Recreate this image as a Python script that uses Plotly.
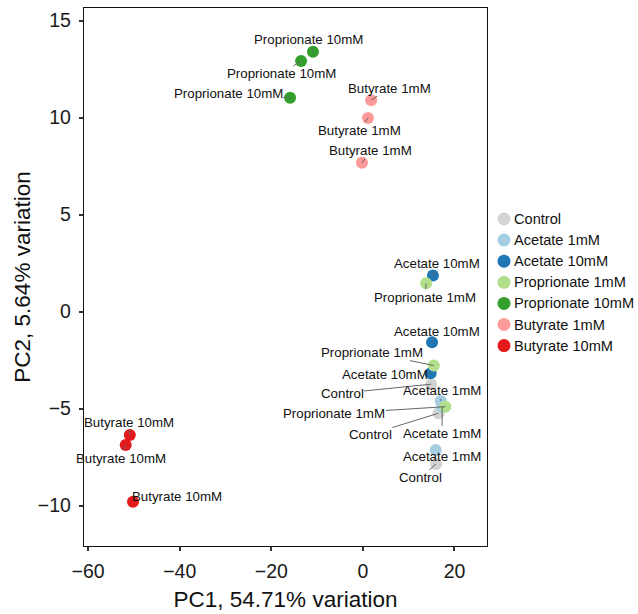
import plotly.graph_objects as go

groups = ["Control", "Acetate 1mM", "Acetate 10mM", "Proprionate 1mM",
          "Proprionate 10mM", "Butyrate 1mM", "Butyrate 10mM"]
colors = ["#D3D3D3", "#A6CEE3", "#1F78B4", "#B2DF8A", "#33A02C", "#FB9A99", "#E31A1C"]

pc1_control = [14.9, 16.5, 16.0]
pc2_control = [-3.74, -5.24, -7.85]
pc1_ace1 = [17.0, 17.3, 15.9]
pc2_ace1 = [-4.6, -4.9, -7.13]
pc1_ace10 = [15.3, 15.1, 14.8]
pc2_ace10 = [1.86, -1.58, -3.18]
pc1_pro1 = [13.8, 15.5, 18.0]
pc2_pro1 = [1.46, -2.78, -4.9]
pc1_pro10 = [-10.9, -13.5, -15.9]
pc2_pro10 = [13.39, 12.92, 11.02]
pc1_but1 = [1.8, 1.1, -0.2]
pc2_but1 = [10.9, 9.98, 7.67]
pc1_but10 = [-50.9, -51.8, -50.2]
pc2_but10 = [-6.36, -6.88, -9.8]

pc1 = [pc1_control, pc1_ace1, pc1_ace10, pc1_pro1, pc1_pro10, pc1_but1, pc1_but10]
pc2 = [pc2_control, pc2_ace1, pc2_ace10, pc2_pro1, pc2_pro10, pc2_but1, pc2_but10]

# label offsets (pixels) for repelled labels, layout only
label_offsets = [
    [(-89, 9), (-68, 21), (-16, 14)],
    [(1, -10), (0, 27), (6, 7)],
    [(4, -12), (5, -11), (-46, 1)],
    [(-1, 14), (-62, -13), (-111, 7)],
    [(-4, -12), (-20, 13), (-62, -4)],
    [(18, -12), (-8, 12), (9, -12)],
    [(-1, -13), (-5, 13), (44, -5)],
]

FONT = "Liberation Sans, Arial"

fig = go.Figure()
annotations = []
shapes = []
for g, c, xs, ys, offs in zip(groups, colors, pc1, pc2, label_offsets):
    fig.add_trace(go.Scatter(
        x=xs, y=ys, mode="markers", name=g, showlegend=False,
        marker=dict(color=c, size=12, line=dict(width=0)),
    ))
    for x, y, (dx, dy) in zip(xs, ys, offs):
        annotations.append(dict(
            x=x, y=y, xref="x", yref="y", text=g, showarrow=True,
            ax=dx, ay=dy, arrowhead=0, arrowwidth=1, arrowcolor="#666666",
            standoff=0, startstandoff=0, borderpad=0,
            font=dict(family=FONT, size=13.3, color="#111111"),
        ))

# custom legend (plot area: 84..487 px wide, 8..546 px tall)
plot_w, plot_h = 403.0, 538.0
leg_marker_x = (504 - 84) / plot_w
leg_text_x = (512 - 84) / plot_w
for i, (g, c) in enumerate(zip(groups, colors)):
    py = 219 + i * 21.1
    ypap = (546 - py) / plot_h
    shapes.append(dict(
        type="circle", xref="paper", yref="paper",
        xsizemode="pixel", ysizemode="pixel",
        xanchor=leg_marker_x, yanchor=ypap,
        x0=-6.5, x1=6.5, y0=-6.5, y1=6.5,
        fillcolor=c, line=dict(width=0),
    ))
    annotations.append(dict(
        x=leg_text_x, y=ypap, xref="paper", yref="paper", text=g,
        showarrow=False, xanchor="left", yanchor="middle",
        font=dict(family=FONT, size=14.6, color="#111111"),
    ))

axis_common = dict(
    showgrid=False, zeroline=False, showline=True, mirror=True,
    linecolor="#111111", linewidth=1.3,
    ticks="outside", ticklen=4, tickwidth=2, tickcolor="#333333",
    tickfont=dict(family=FONT, size=19.5, color="#1a1a1a"),
)

fig.update_layout(
    width=638, height=614,
    margin=dict(l=84, r=151, t=8, b=68, autoexpand=False),
    paper_bgcolor="white", plot_bgcolor="white",
    font=dict(family=FONT),
    showlegend=False,
    xaxis=dict(axis_common, range=[-60.9, 27.1], tickvals=[-60, -40, -20, 0, 20],
               ticklabelstandoff=3,
               title=dict(text="PC1, 54.71% variation",
                          font=dict(size=22.5, color="#111111"), standoff=10)),
    yaxis=dict(axis_common, range=[-12.08, 15.65], tickvals=[-10, -5, 0, 5, 10, 15],
               ticklabelstandoff=4,
               title=dict(text="PC2, 5.64% variation",
                          font=dict(size=22.5, color="#111111"), standoff=0)),
    annotations=annotations,
    shapes=shapes,
)

fig.write_html("out.html")
